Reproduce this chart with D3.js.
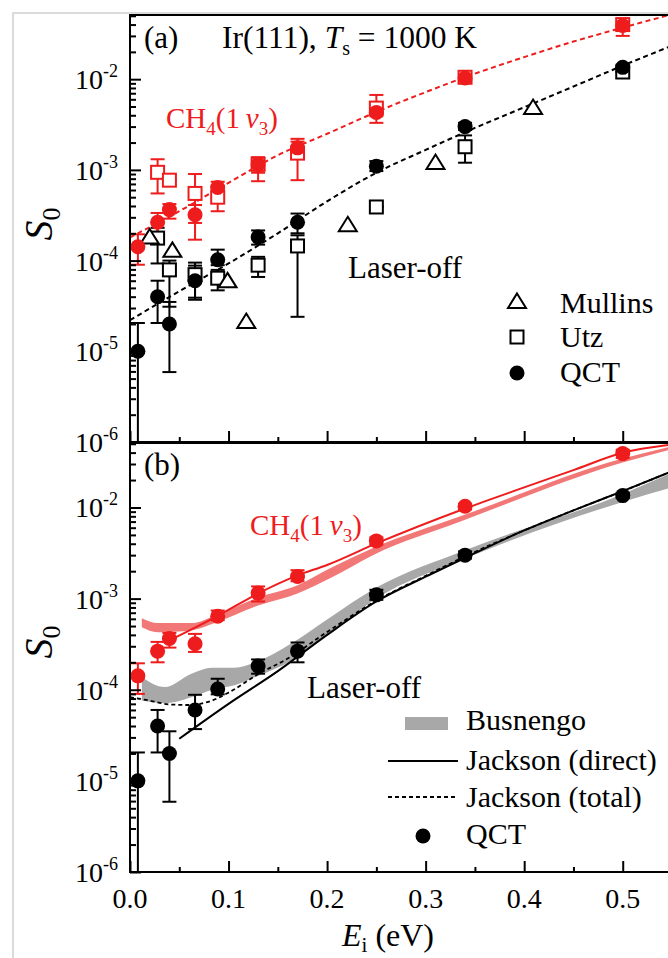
<!DOCTYPE html>
<html>
<head>
<meta charset="utf-8">
<style>
  body { margin: 0; background: #fff; }
  svg { display: block; font-family: "Liberation Serif", "Times New Roman", serif; }
  .axis .domain { display: none; }
  .axis line { stroke: #000; stroke-width: 2px; }
</style>
</head>
<body>
<div id="chart"></div>
<script src="https://d3js.org/d3.v7.min.js"></script>
<script>
// ---- data (S0 vs incident energy Ei in eV) ----
var qctE = [0.008, 0.028, 0.04, 0.066, 0.089, 0.13, 0.17, 0.25, 0.34, 0.5];
// QCT laser-off
var qctOff   = [1.0e-5, 4.0e-5, 2.0e-5, 6.0e-5, 1.02e-4, 1.82e-4, 2.65e-4, 1.1e-3, 3.0e-3, 1.35e-2];
var qctOffHi = [2.05e-5, 6.0e-5, 3.5e-5, 8.8e-5, 1.32e-4, 2.15e-4, 3.3e-4, 1.25e-3, 3.3e-3, 1.45e-2];
var qctOffLo = [1e-7, 2.05e-5, 5.9e-6, 3.7e-5, 8.9e-5, 1.5e-4, 2.0e-4, 0.97e-3, 2.75e-3, 1.27e-2];
// QCT CH4(1v3)
var qctOn   = [1.42e-4, 2.65e-4, 3.65e-4, 3.2e-4, 6.4e-4, 1.15e-3, 1.75e-3, 4.3e-3, 1.03e-2, 3.9e-2];
var qctOnHi = [1.95e-4, 3.35e-4, 4.2e-4, 4.1e-4, 7.4e-4, 1.36e-3, 2.05e-3, 4.7e-3, 1.1e-2, 4.3e-2];
var qctOnLo = [9.0e-5, 2.0e-4, 2.9e-4, 2.6e-4, 5.8e-4, 9.3e-4, 1.55e-3, 3.9e-3, 9.5e-3, 3.5e-2];

// Utz experiments
var utzE = [0.028, 0.04, 0.066, 0.089, 0.13, 0.17, 0.25, 0.34, 0.5];
var utzOff   = [1.77e-4, 7.9e-5, 7.0e-5, 6.4e-5, 8.9e-5, 1.45e-4, 3.9e-4, 1.8e-3, 1.2e-2];
var utzOffHi = [2.3e-4, 1.0e-4, 9.5e-5, 7.9e-5, 1.1e-4, 1.9e-4, 3.9e-4, 2.4e-3, 1.2e-2];
var utzOffLo = [9.3e-5, 3.1e-5, 3.9e-5, 4.7e-5, 6.6e-5, 2.4e-5, 3.9e-4, 1.2e-3, 1.2e-2];
var utzOn   = [9.4e-4, 7.7e-4, 5.5e-4, 5.0e-4, 1.15e-3, 1.53e-3, 4.8e-3, 1.05e-2, 4.0e-2];
var utzOnHi = [1.31e-3, 7.7e-4, 9.0e-4, 6.5e-4, 1.38e-3, 2.2e-3, 6.7e-3, 1.12e-2, 4.6e-2];
var utzOnLo = [5.5e-4, 7.7e-4, 1.7e-4, 3.5e-4, 7.5e-4, 7.7e-4, 3.3e-3, 9.8e-3, 3.0e-2];

// Mullins experiments (laser-off)
var mullinsE = [0.02, 0.043, 0.099, 0.118, 0.221, 0.31, 0.409];
var mullinsS = [1.8e-4, 1.28e-4, 5.9e-5, 2.1e-5, 2.45e-4, 1.19e-3, 4.8e-3];

// dashed guide curves, panel (a)
var fitE   = [0, 0.05, 0.1, 0.15, 0.2, 0.25, 0.3, 0.35, 0.4, 0.45, 0.5, 0.55];
var fitOn  = [1.8e-4, 3.5e-4, 7.2e-4, 1.45e-3, 2.5e-3, 4.35e-3, 7.2e-3, 1.15e-2, 1.75e-2, 2.6e-2, 3.7e-2, 5.2e-2];
var fitOff = [2.2e-5, 4.6e-5, 9.3e-5, 2.0e-4, 4.5e-4, 9.3e-4, 1.66e-3, 2.9e-3, 4.9e-3, 8.3e-3, 1.41e-2, 2.34e-2];

// Jackson (direct) and (total), panel (b)
var directOffE = [0.05, 0.1, 0.15, 0.2, 0.25, 0.3, 0.34, 0.4, 0.45, 0.5, 0.55];
var directOff  = [2.9e-5, 7.0e-5, 1.6e-4, 4.0e-4, 9.3e-4, 1.74e-3, 2.8e-3, 5.6e-3, 9.3e-3, 1.51e-2, 2.5e-2];
var totalOffE = [0, 0.02, 0.04, 0.06, 0.08, 0.1, 0.13, 0.16, 0.2, 0.25, 0.3, 0.34, 0.4, 0.45, 0.5, 0.55];
var totalOff  = [8.3e-5, 7.6e-5, 6.9e-5, 6.8e-5, 7.4e-5, 9.3e-5, 1.48e-4, 2.2e-4, 4.3e-4, 9.5e-4, 1.78e-3, 2.9e-3, 5.6e-3, 9.3e-3, 1.51e-2, 2.5e-2];
var directOnE = [0.04, 0.09, 0.13, 0.17, 0.2, 0.25, 0.34, 0.4, 0.45, 0.5, 0.55];
var directOn  = [3.48e-4, 6.55e-4, 1.14e-3, 1.8e-3, 2.34e-3, 4.03e-3, 9.75e-3, 1.66e-2, 2.57e-2, 3.98e-2, 4.9e-2];

// Busnengo bands (upper / lower edge)
var bandOnE   = [0.012, 0.028, 0.063, 0.086, 0.13, 0.17, 0.203, 0.246, 0.338, 0.5, 0.55];
var bandOnHi  = [6.1e-4, 5.4e-4, 5.4e-4, 6.5e-4, 1.03e-3, 1.4e-3, 2.15e-3, 3.56e-3, 8.2e-3, 3.44e-2, 4.68e-2];
var bandOnLo  = [4.85e-4, 4.27e-4, 4.5e-4, 5.4e-4, 8.4e-4, 1.14e-3, 1.67e-3, 2.98e-3, 7.2e-3, 3.11e-2, 4.37e-2];
var bandOffE  = [0.012, 0.035, 0.063, 0.083, 0.106, 0.127, 0.164, 0.2, 0.25, 0.34, 0.5, 0.55];
var bandOffHi = [1.38e-4, 1.07e-4, 1.51e-4, 1.74e-4, 1.74e-4, 2.0e-4, 3.24e-4, 5.9e-4, 1.32e-3, 3.4e-3, 1.41e-2, 2.4e-2];
var bandOffLo = [7.6e-5, 7.1e-5, 8.3e-5, 1.0e-4, 1.12e-4, 1.38e-4, 2.1e-4, 4.0e-4, 1.0e-3, 2.75e-3, 1.15e-2, 1.66e-2];

// ticks
var xMajorTicks = [0, 0.1, 0.2, 0.3, 0.4, 0.5];
var xMinorTicks = [0.05, 0.15, 0.25, 0.35, 0.45, 0.55];
var xTickLabels = ["0.0", "0.1", "0.2", "0.3", "0.4", "0.5"];
var yDecades = [-6, -5, -4, -3, -2];

var RED = "#ee1c1c";

var W = 668, H = 958;
var svg = d3.select("#chart").append("svg").attr("width", W).attr("height", H);

// light border of the original figure
svg.append("path").attr("d", "M13,958V13H668").attr("fill", "none")
  .attr("stroke", "#cfcfcf").attr("stroke-width", 1.5);

var x = d3.scaleLinear().domain([0, 0.55]).range([130, 672]);
var ya = d3.scaleLog().domain([1e-6, 0.051]).range([442, 15]);
var yb = d3.scaleLog().domain([1e-6, 0.051]).range([872, 443]);

var yMinorTicks = [];
yDecades.forEach(function(e) {
  for (var k = 2; k <= 9; k++) {
    var v = k * Math.pow(10, e);
    if (v <= 0.051) yMinorTicks.push(v);
  }
});

function zip(a, b) { return a.map(function(d, i) { return [d, b[i]]; }); }

function panel(y, id, labelY) {
  var r = y.range();
  var g = svg.append("g");
  svg.append("clipPath").attr("id", id).append("rect")
    .attr("x", 130).attr("y", r[1]).attr("width", 542).attr("height", r[0] - r[1]);
  var plot = g.append("g").attr("clip-path", "url(#" + id + ")");

  // axes (ticks pointing inward)
  g.append("g").attr("class", "axis").attr("transform", "translate(130,0)")
    .call(d3.axisRight(y).tickValues(yDecades.map(function(e){ return Math.pow(10, e); })).tickSize(11).tickFormat(""));
  g.append("g").attr("class", "axis").attr("transform", "translate(130,0)")
    .call(d3.axisRight(y).tickValues(yMinorTicks).tickSize(6).tickFormat(""));
  g.append("g").attr("class", "axis").attr("transform", "translate(0," + r[0] + ")")
    .call(d3.axisTop(x).tickValues(xMajorTicks).tickSize(11).tickFormat(""));
  g.append("g").attr("class", "axis").attr("transform", "translate(0," + r[0] + ")")
    .call(d3.axisTop(x).tickValues(xMinorTicks).tickSize(5).tickFormat(""));

  // y tick labels 10^n
  yDecades.forEach(function(e) {
    var t = g.append("text").attr("x", 118).attr("y", y(Math.pow(10, e)) + 10)
      .attr("text-anchor", "end").style("font-size", "28px");
    t.append("tspan").text("10");
    t.append("tspan").attr("dy", -12).style("font-size", "18px").text(String(e));
  });

  // y title
  var s = g.append("text")
    .attr("transform", "translate(52," + labelY + ") rotate(-90)")
    .attr("text-anchor", "middle").style("font-size", "40px");
  s.append("tspan").style("font-style", "italic").text("S");
  s.append("tspan").attr("dy", 8).style("font-size", "26px").text("0");

  return {g: g, plot: plot, y: y};
}

function errorBars(p, xs, ys, lo, hi, color) {
  var y = p.y;
  var d = xs.map(function(v, i) { return {x: v, lo: lo[i], hi: hi[i]}; });
  var eb = p.plot.append("g").attr("stroke", color).attr("stroke-width", 2);
  eb.selectAll(".v").data(d).enter().append("line")
    .attr("x1", function(d){ return x(d.x); }).attr("x2", function(d){ return x(d.x); })
    .attr("y1", function(d){ return y(d.lo); }).attr("y2", function(d){ return y(d.hi); });
  eb.selectAll(".cap").data(d.concat(d)).enter().append("line")
    .attr("x1", function(d){ return x(d.x) - 7; }).attr("x2", function(d){ return x(d.x) + 7; })
    .attr("y1", function(d, i){ return y(i < xs.length ? d.lo : d.hi); })
    .attr("y2", function(d, i){ return y(i < xs.length ? d.lo : d.hi); });
}

function dots(p, xs, ys, color) {
  p.plot.append("g").selectAll("circle").data(zip(xs, ys)).enter().append("circle")
    .attr("cx", function(d){ return x(d[0]); }).attr("cy", function(d){ return p.y(d[1]); })
    .attr("r", 7.5).attr("fill", color);
}

function squares(p, xs, ys, color) {
  p.plot.append("g").selectAll("rect").data(zip(xs, ys)).enter().append("rect")
    .attr("x", function(d){ return x(d[0]) - 6.5; }).attr("y", function(d){ return p.y(d[1]) - 6.5; })
    .attr("width", 13).attr("height", 13)
    .attr("fill", "#fff").attr("stroke", color).attr("stroke-width", 2);
}

var triPath = "M0,-8.5L9,6L-9,6Z";
function triangles(p, xs, ys, color) {
  p.plot.append("g").selectAll("path").data(zip(xs, ys)).enter().append("path")
    .attr("transform", function(d){ return "translate(" + x(d[0]) + "," + p.y(d[1]) + ")"; })
    .attr("d", triPath).attr("fill", "#fff").attr("stroke", color).attr("stroke-width", 2);
}

function curve(p, xs, ys, color, width, dash) {
  var line = d3.line().x(function(d){ return x(d[0]); }).y(function(d){ return p.y(d[1]); })
    .curve(d3.curveMonotoneX);
  p.plot.append("path").datum(zip(xs, ys)).attr("d", line)
    .attr("fill", "none").attr("stroke", color).attr("stroke-width", width)
    .attr("stroke-dasharray", dash || null);
}

function band(p, xs, lo, hi, color, op) {
  var area = d3.area().x(function(d){ return x(d[0]); })
    .y0(function(d){ return p.y(d[1]); }).y1(function(d){ return p.y(d[2]); })
    .curve(d3.curveMonotoneX);
  p.plot.append("path").datum(xs.map(function(v, i){ return [v, lo[i], hi[i]]; }))
    .attr("d", area).attr("fill", color).attr("opacity", op);
}

function chLabel(g, px, py) {
  var t = g.append("text").attr("x", px).attr("y", py).attr("fill", RED).style("font-size", "29px");
  t.append("tspan").text("CH");
  t.append("tspan").attr("dy", 7).style("font-size", "19px").text("4");
  t.append("tspan").attr("dy", -7).text("(1\u2009");
  t.append("tspan").style("font-style", "italic").text("\u03BD");
  t.append("tspan").attr("dy", 7).style("font-size", "19px").text("3");
  t.append("tspan").attr("dy", -7).text(")");
}

// ---------- panel (a) ----------
var pa = panel(ya, "clipA", 224);
curve(pa, fitE, fitOn, RED, 2, "5,3.5");
curve(pa, fitE, fitOff, "#000", 2, "5,3.5");
errorBars(pa, utzE, utzOn, utzOnLo, utzOnHi, RED);
errorBars(pa, utzE, utzOff, utzOffLo, utzOffHi, "#000");
errorBars(pa, qctE, qctOn, qctOnLo, qctOnHi, RED);
errorBars(pa, qctE, qctOff, qctOffLo, qctOffHi, "#000");
squares(pa, utzE, utzOn, RED);
squares(pa, utzE, utzOff, "#000");
triangles(pa, mullinsE, mullinsS, "#000");
dots(pa, qctE, qctOn, RED);
dots(pa, qctE, qctOff, "#000");

pa.g.append("rect").attr("x", 130).attr("y", 15).attr("width", 542).attr("height", 427)
  .attr("fill", "none").attr("stroke", "#000").attr("stroke-width", 2);

pa.g.append("text").attr("x", 144).attr("y", 48).style("font-size", "31px").text("(a)");
var ir = pa.g.append("text").attr("x", 222).attr("y", 48).style("font-size", "31.5px");
ir.append("tspan").text("Ir(111), ");
ir.append("tspan").style("font-style", "italic").text("T");
ir.append("tspan").attr("dy", 7).style("font-size", "20px").text("s");
ir.append("tspan").attr("dy", -7).text(" = 1000 K");
chLabel(pa.g, 166, 128);
pa.g.append("text").attr("x", 348).attr("y", 278).style("font-size", "31px").text("Laser-off");

// legend (a)
var la = pa.g.append("g");
la.append("path").attr("transform", "translate(517,302)").attr("d", triPath)
  .attr("fill", "#fff").attr("stroke", "#000").attr("stroke-width", 2);
la.append("rect").attr("x", 510.5).attr("y", 330.5).attr("width", 13).attr("height", 13)
  .attr("fill", "#fff").attr("stroke", "#000").attr("stroke-width", 2);
la.append("circle").attr("cx", 517).attr("cy", 373).attr("r", 7.5).attr("fill", "#000");
[["Mullins", 313], ["Utz", 347], ["QCT", 382]].forEach(function(d) {
  la.append("text").attr("x", 560).attr("y", d[1]).style("font-size", "30px").text(d[0]);
});

// ---------- panel (b) ----------
var pb = panel(yb, "clipB", 642);
band(pb, bandOffE, bandOffLo, bandOffHi, "#a8a8a8", 1);
band(pb, bandOnE, bandOnLo, bandOnHi, "#f06060", 0.85);
curve(pb, totalOffE, totalOff, "#000", 1.8, "4,3");
curve(pb, directOffE, directOff, "#000", 2);
curve(pb, directOnE, directOn, RED, 2);
errorBars(pb, qctE, qctOn, qctOnLo, qctOnHi, RED);
errorBars(pb, qctE, qctOff, qctOffLo, qctOffHi, "#000");
dots(pb, qctE, qctOn, RED);
dots(pb, qctE, qctOff, "#000");

pb.g.append("rect").attr("x", 130).attr("y", 443).attr("width", 542).attr("height", 429)
  .attr("fill", "none").attr("stroke", "#000").attr("stroke-width", 2);

pb.g.append("text").attr("x", 144).attr("y", 475).style("font-size", "31px").text("(b)");
chLabel(pb.g, 250, 535);
pb.g.append("text").attr("x", 307).attr("y", 698).style("font-size", "31px").text("Laser-off");

// x tick labels
pb.g.selectAll(".xl").data(xMajorTicks).enter().append("text")
  .attr("x", function(d){ return x(d); }).attr("y", 908)
  .attr("text-anchor", "middle").style("font-size", "28px")
  .text(function(d, i){ return xTickLabels[i]; });

var xt = pb.g.append("text").attr("x", 342).attr("y", 946).style("font-size", "32px");
xt.append("tspan").style("font-style", "italic").text("E");
xt.append("tspan").attr("dy", 6).style("font-size", "21px").text("i");
xt.append("tspan").attr("dy", -6).text(" (eV)");

// legend (b)
var lb = pb.g.append("g");
lb.append("rect").attr("x", 405).attr("y", 717).attr("width", 43).attr("height", 13).attr("fill", "#a8a8a8");
lb.append("line").attr("x1", 388).attr("x2", 458).attr("y1", 761).attr("y2", 761)
  .attr("stroke", "#000").attr("stroke-width", 2);
lb.append("line").attr("x1", 388).attr("x2", 458).attr("y1", 797).attr("y2", 797)
  .attr("stroke", "#000").attr("stroke-width", 1.8).attr("stroke-dasharray", "4,3");
lb.append("circle").attr("cx", 423).attr("cy", 836).attr("r", 7.5).attr("fill", "#000");
[["Busnengo", 730], ["Jackson (direct)", 770], ["Jackson (total)", 807], ["QCT", 844]].forEach(function(d) {
  lb.append("text").attr("x", 466).attr("y", d[1]).style("font-size", "30px").text(d[0]);
});
</script>
</body>
</html>
